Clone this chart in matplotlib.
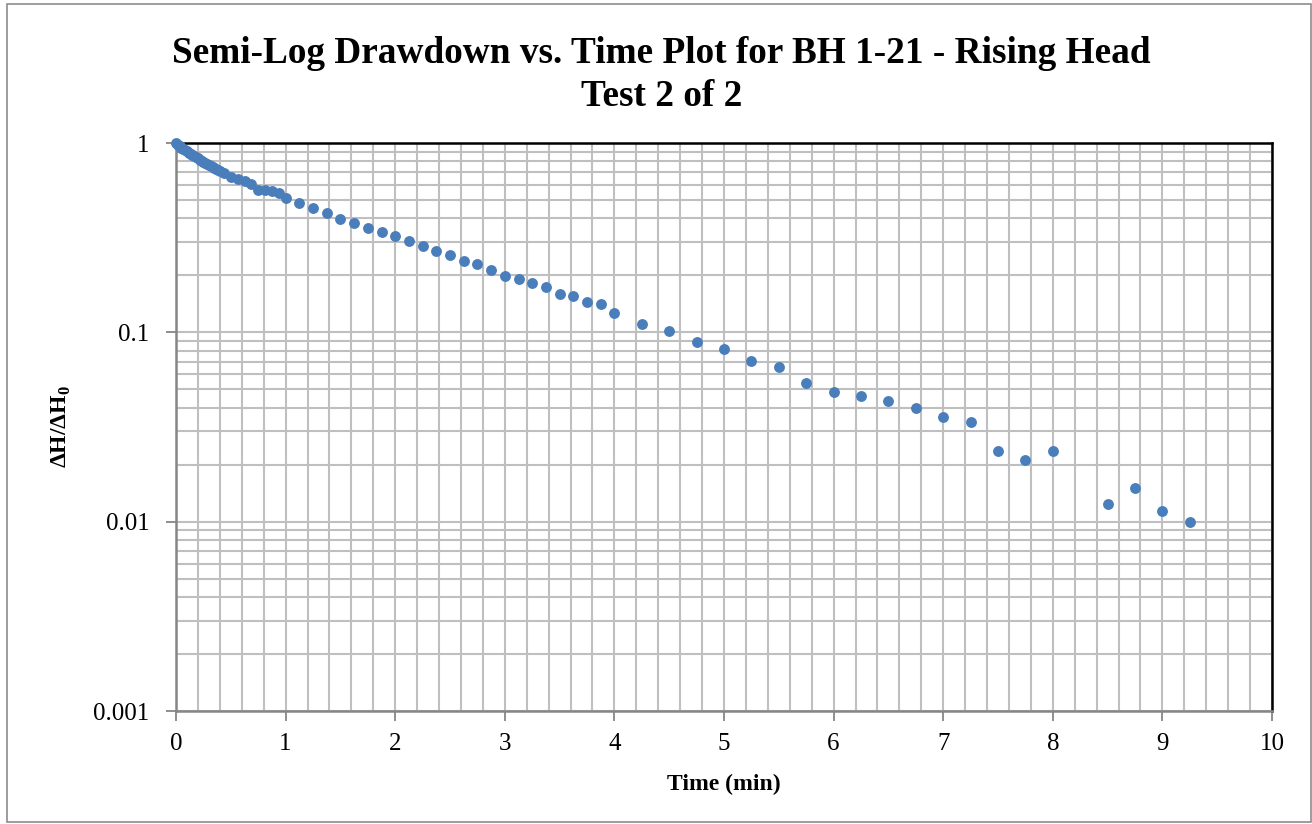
import matplotlib
matplotlib.use("Agg")
from matplotlib import pyplot as plt
from matplotlib.patches import Rectangle
from matplotlib.ticker import LogLocator, MultipleLocator, FixedFormatter, FixedLocator

plt.rcParams["font.family"] = ["Liberation Serif", "DejaVu Serif"]
plt.rcParams["mathtext.fontset"] = "custom"
plt.rcParams["mathtext.rm"] = "Liberation Serif"
plt.rcParams["mathtext.bf"] = "Liberation Serif:bold"

# time (min) and normalised head dH/dH0
time_min = [0, 0.0167, 0.0333, 0.05, 0.0667, 0.0833, 0.1, 0.1167, 0.1333, 0.15,
            0.1667, 0.1833, 0.2, 0.2167, 0.2333, 0.25, 0.2667, 0.2833, 0.3, 0.3167,
            0.3333, 0.35, 0.3667, 0.3833, 0.4,
            0.4375, 0.5, 0.5625, 0.625, 0.6875, 0.75, 0.8125, 0.875, 0.9375,
            1.0, 1.125, 1.25, 1.375, 1.5, 1.625, 1.75, 1.875, 2.0, 2.125, 2.25,
            2.375, 2.5, 2.625, 2.75, 2.875, 3.0, 3.125, 3.25, 3.375, 3.5, 3.625,
            3.75, 3.875, 4.0,
            4.25, 4.5, 4.75, 5.0, 5.25, 5.5, 5.75, 6.0, 6.25, 6.5, 6.75, 7.0,
            7.25, 7.5, 7.75, 8.0, 8.5, 8.75, 9.0, 9.25]
head_ratio = [1.000, 0.980, 0.962, 0.946, 0.931, 0.917, 0.903, 0.890, 0.877, 0.864,
              0.852, 0.840, 0.829, 0.818, 0.808, 0.798, 0.788, 0.778, 0.769, 0.760,
              0.751, 0.742, 0.733, 0.724, 0.715,
              0.697, 0.664, 0.643, 0.630, 0.607, 0.568, 0.567, 0.561, 0.546,
              0.510, 0.484, 0.452, 0.425, 0.395, 0.378, 0.356, 0.337, 0.321, 0.303,
              0.285, 0.270, 0.255, 0.239, 0.230, 0.213, 0.199, 0.192, 0.182, 0.173,
              0.159, 0.156, 0.145, 0.141, 0.126,
              0.1106, 0.1016, 0.0886, 0.0813, 0.0708, 0.0653, 0.0538, 0.0486,
              0.0459, 0.0435, 0.0398, 0.0358, 0.0336, 0.0237, 0.0212, 0.0237,
              0.0124, 0.0150, 0.0114, 0.0099]

x_ticks = [0, 1, 2, 3, 4, 5, 6, 7, 8, 9, 10]
y_ticks = [0.001, 0.01, 0.1, 1]
y_tick_labels = ["0.001", "0.01", "0.1", "1"]

fig = plt.figure(figsize=(13.12, 8.24), dpi=100)
ax = fig.add_axes([176 / 1312, 1 - 711 / 824, (1272 - 176) / 1312, (711 - 143) / 824])

# outer chart border
fig.patches.append(Rectangle((7 / 1312, 0.002), 1 - 8 / 1312, 0.993,
                             transform=fig.transFigure, fill=False,
                             ec="#8c8c8c", lw=1.2))

ax.plot(time_min, head_ratio, "o", color="#4a7ebb", mec="#4a7ebb",
        markersize=6.8, zorder=3, clip_on=False)

ax.set_yscale("log")
ax.set_xlim(0, 10)
ax.set_ylim(0.001, 1)

ax.xaxis.set_major_locator(FixedLocator(x_ticks))
ax.xaxis.set_minor_locator(MultipleLocator(0.2))
ax.yaxis.set_major_locator(FixedLocator(y_ticks))
ax.yaxis.set_major_formatter(FixedFormatter(y_tick_labels))
ax.yaxis.set_minor_locator(LogLocator(base=10, subs=range(2, 10)))
ax.yaxis.set_minor_formatter(plt.NullFormatter())

ax.grid(True, which="both", color="#bfbfbf", lw=1.5)
ax.set_axisbelow(True)

ax.tick_params(which="major", direction="out", length=7, width=1.3,
               color="#868686", labelsize=18, pad=8.5)
ax.tick_params(axis="y", which="major", pad=12)
ax.tick_params(which="minor", length=0)

for side in ["left", "bottom"]:
    ax.spines[side].set_color("#868686")
    ax.spines[side].set_linewidth(1.8)
for side in ["top", "right"]:
    ax.spines[side].set_color("black")
    ax.spines[side].set_linewidth(1.8)

ax.set_xlabel("Time (min)", fontsize=17, fontweight="bold", labelpad=14)
ax.set_ylabel(r"ΔH/ΔH$_\mathbf{0}$", fontsize=17, fontweight="bold", labelpad=15)

fig.text(0.504, 1 - 75 / 824,
         "Semi-Log Drawdown vs. Time Plot for BH 1-21 - Rising Head\nTest 2 of 2",
         ha="center", va="center", fontsize=26.8, fontweight="bold", linespacing=1.27)

fig.savefig("out.png", dpi=100)
